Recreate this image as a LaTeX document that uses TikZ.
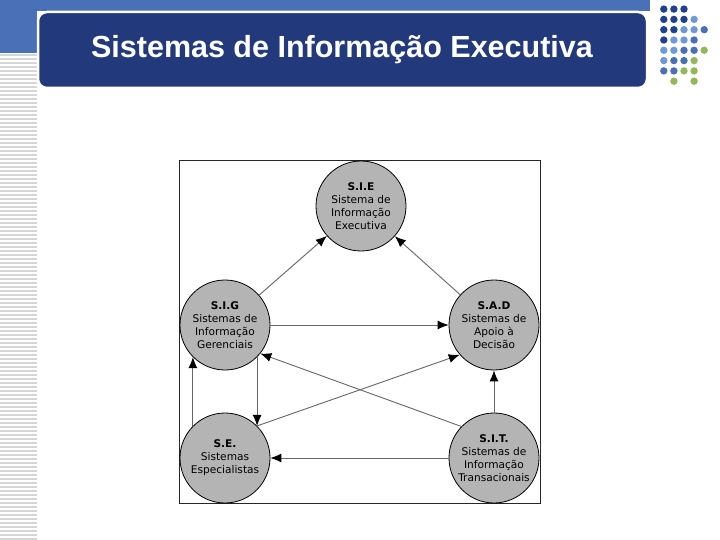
\documentclass[tikz,border=0pt]{standalone}
\usepackage{fontspec}
\setmainfont{DejaVu Sans}
\newfontfamily\titlefont{Liberation Sans}
\definecolor{SieBand}{HTML}{4A70B8}
\definecolor{SieNavy}{HTML}{223A7B}
\definecolor{SieCircle}{HTML}{B4B4B4}
\definecolor{SieStripe}{HTML}{D6D6D6}
\definecolor{DotNavy}{HTML}{1F3F8F}
\definecolor{DotLight}{HTML}{6F98D8}
\definecolor{DotMid}{HTML}{4A6FB8}
\definecolor{DotGreen}{HTML}{92B85A}
\usetikzlibrary{arrows.meta,positioning}

\begin{document}
\begin{tikzpicture}[x=1pt,y=-1pt,
      sistema/.style={circle,draw=black,line width=0.8pt,fill=SieCircle,
                      minimum size=90pt,inner sep=0pt,align=center,
                      font=\fontsize{10.6}{13}\selectfont},
      flow/.style={-{Latex[length=11pt,width=9pt,color=black]},
                   draw=black!60,line width=0.9pt}]
    \useasboundingbox[fill=white] (0,0) rectangle (720,540);
    % slide background
    \fill[SieBand] (0,0) rectangle (650,11);
    \fill[SieBand] (0,0) rectangle (37,53);
    \foreach \y in {55,59,...,539} \draw[SieStripe,line width=1.2pt] (0,\y) -- (37,\y);
    \draw[white,line width=2.5pt,fill=SieNavy,rounded corners=9pt] (38,12) rectangle (647,88);
    \node[font=\titlefont\bfseries\fontsize{30.5}{36}\selectfont,text=white] (titulo) at (342,50)
      {Sistemas de Informação Executiva};
    \foreach \c/\r/\k in {1/1/DotNavy,2/1/DotNavy,3/1/DotNavy,
        1/2/DotNavy,2/2/DotNavy,3/2/DotNavy,4/2/DotLight,
        1/3/DotNavy,2/3/DotNavy,3/3/DotLight,4/3/DotLight,5/3/DotMid,
        1/4/DotNavy,2/4/DotLight,3/4/DotLight,4/4/DotMid,
        1/5/DotLight,2/5/DotLight,3/5/DotMid,4/5/DotMid,5/5/DotGreen,
        1/6/DotLight,2/6/DotMid,3/6/DotMid,4/6/DotGreen,
        1/7/DotMid,2/7/DotMid,3/7/DotGreen,4/7/DotGreen,
        2/8/DotGreen,4/8/DotGreen}
      \fill[\k] (653.7+10.1*\c,-1.2+10.3*\r) circle (3.7pt);
    % diagram
    \draw[black!85,line width=0.8pt] (179,160) rectangle (540,503);
    \node[sistema] (sie) at (361,206) {\textbf{S.I.E}\\Sistema de\\Informação\\Executiva};
    \node[sistema] (sig) at (225,325) {\textbf{S.I.G}\\Sistemas de\\Informação\\Gerenciais};
    \node[sistema] (sad) at (494,325) {\textbf{S.A.D}\\Sistemas de\\Apoio à\\Decisão};
    \node[sistema] (se)  at (225,458) {\textbf{S.E.}\\Sistemas\\Especialistas};
    \node[sistema] (sit) at (494,458) {\textbf{S.I.T.}\\Sistemas de\\Informação\\Transacionais};
    \foreach \a/\b in {sig/sie,sad/sie,sig/sad,sit/sad,sit/se} \draw[flow] (\a) -- (\b);
    \draw[flow] (sit.136) -- (sig.-39);
    \draw[flow] (se.45) -- (sad.221);
    \draw[flow] (sig.-45) -- (se.45);
    \draw[flow] (se.135) -- (sig.-135);
  \end{tikzpicture}
\end{document}
